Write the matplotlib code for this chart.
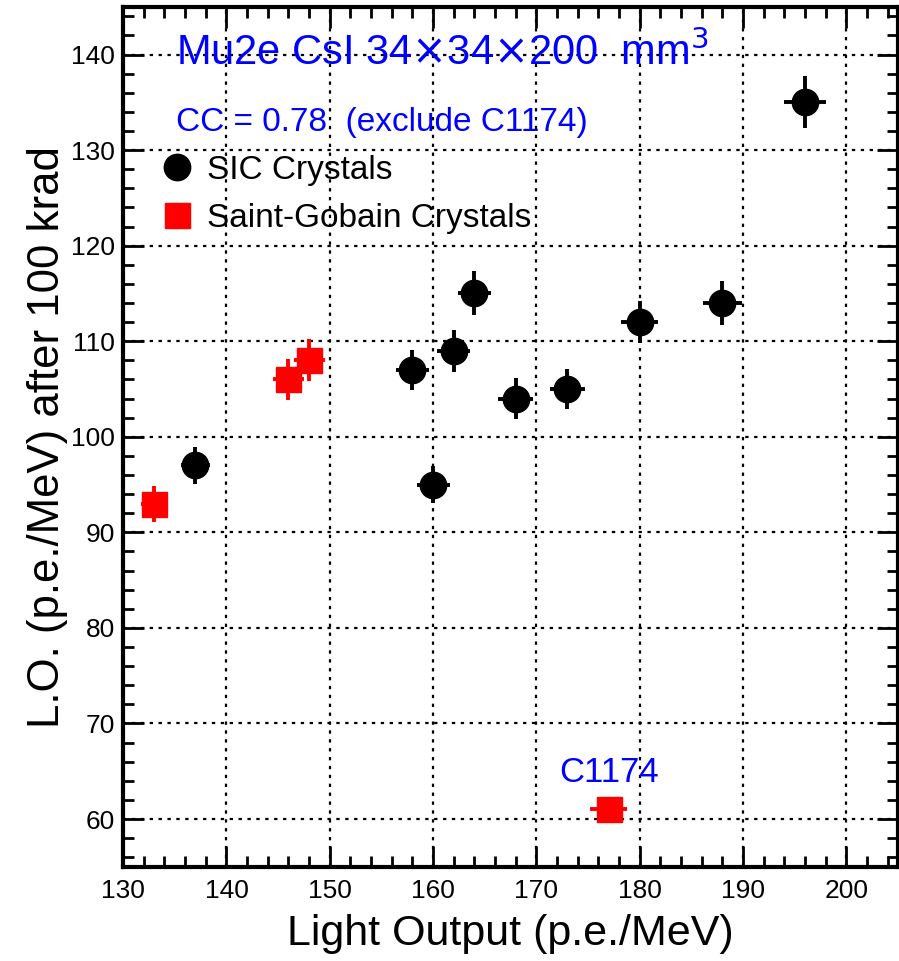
import numpy as np
import matplotlib
matplotlib.use("Agg")
import matplotlib.pyplot as plt
from matplotlib.ticker import MultipleLocator
from matplotlib.lines import Line2D

plt.rcParams['font.family'] = ['Liberation Sans', 'DejaVu Sans']

# SIC crystals
sic_lo = [137, 158, 160, 162, 164, 168, 173, 180, 188, 196]
sic_rad = [97, 107, 95, 109, 115, 104, 105, 112, 114, 135]
sic_xerr = [1.4, 1.6, 1.6, 1.6, 1.6, 1.7, 1.7, 1.8, 1.9, 2.0]
sic_yerr = [1.9, 2.1, 1.9, 2.2, 2.3, 2.1, 2.1, 2.2, 2.3, 2.7]

# Saint-Gobain crystals
sg_lo = [133, 146, 148, 177]
sg_rad = [93, 106, 108, 61]
sg_xerr = [1.3, 1.5, 1.5, 1.8]
sg_yerr = [1.9, 2.1, 2.2, 1.2]

fig = plt.figure(figsize=(8.99, 9.61), dpi=100)
ax = fig.add_axes([0.137, 0.098, 0.862, 0.895])

ax.errorbar(sic_lo, sic_rad, xerr=sic_xerr, yerr=sic_yerr, fmt='o', color='black',
            ms=19, elinewidth=2.8, capsize=0, zorder=3)
ax.errorbar(sg_lo, sg_rad, xerr=sg_xerr, yerr=sg_yerr, fmt='s', color='red',
            ms=18, elinewidth=2.8, capsize=0, zorder=3)

ax.set_xlim(130, 205)
ax.set_ylim(55, 145)
ax.xaxis.set_major_locator(MultipleLocator(10))
ax.xaxis.set_minor_locator(MultipleLocator(2))
ax.yaxis.set_major_locator(MultipleLocator(10))
ax.yaxis.set_minor_locator(MultipleLocator(2))
ax.tick_params(which='both', direction='in', top=True, right=True, width=2)
ax.tick_params(which='major', length=15, labelsize=19)
ax.tick_params(axis='x', which='major', pad=9)
ax.tick_params(axis='y', which='major', pad=6)
ax.tick_params(which='minor', length=8)
for s in ax.spines.values():
    s.set_linewidth(3)
ax.grid(True, which='major', color='black', linestyle=(0, (1.5, 2.5)), linewidth=1.6)

ax.set_xlabel('Light Output (p.e./MeV)', fontsize=31, labelpad=8)
ax.set_ylabel('L.O. (p.e./MeV) after 100 krad', fontsize=31.5, labelpad=2)

ax.text(135.1, 138.9, r'Mu2e CsI 34$\times$34$\times$200  mm$^3$', color='blue', fontsize=30,
        va='baseline')
ax.text(135.1, 132.0, 'CC = 0.78  (exclude C1174)', color='blue', fontsize=24, va='baseline')
ax.text(177, 63.85, 'C1174', color='blue', fontsize=25, ha='center', va='baseline')

handles = [Line2D([], [], ls='none', marker='o', color='black', ms=19),
           Line2D([], [], ls='none', marker='s', color='red', ms=18)]
ax.legend(handles, ['SIC Crystals', 'Saint-Gobain Crystals'], loc='upper left',
          bbox_to_anchor=(0.022, 0.843), frameon=False, fontsize=24,
          handletextpad=0.2, labelspacing=0.5, handlelength=1.4, borderaxespad=0)

fig.savefig('out.png', dpi=100)
